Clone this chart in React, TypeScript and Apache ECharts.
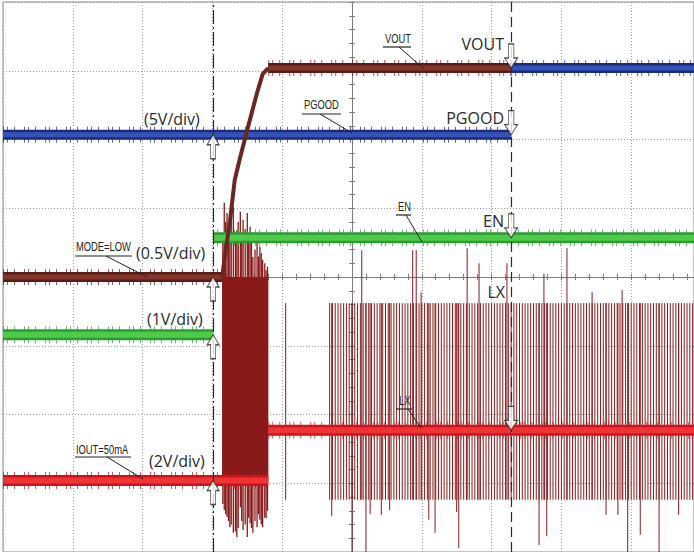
import { useEffect, useRef } from "react";
import * as echarts from "echarts";

// ---------------- data (x in divisions 0..9.9, y in divisions 0..8) ----------------
const triggerTime = 3.01;
const cursorTime = 7.28;

const voutTrace: any[] = [[0, 4.0], [3.14, 4.0], [3.19, 4.39], [3.25, 4.8], [3.32, 5.41], [3.4, 5.75], [3.51, 6.18], [3.64, 6.68], [3.72, 6.95], [3.8, 7.04], [7.28, 7.04]];
const pgoodTrace: any[] = [[0, 6.07], [7.28, 6.07], [7.28, "-"], [7.28, 7.04], [9.9, 7.04]];
const enTrace: any[] = [[0, 3.16], [3.01, 3.16], [3.01, "-"], [3.01, 4.57], [9.9, 4.57]];
const ioutTrace: any[] = [[0, 1.04], [3.8, 1.04], [3.8, "-"], [3.8, 1.77], [9.9, 1.77]];

// LX start-up burst: [start, end, top, bottom]
const lxBurst = [3.14, 3.8, 4.0, 1.04];
// burst spikes: [t, top, bottom]
const lxBurstSpikes = [
  [3.15, 4.6, 0.7], [3.17, 5.08, 0.61], [3.19, 4.8, 0.55], [3.21, 4.93, 0.51], [3.23, 4.5, 0.45],
  [3.25, 4.87, 0.36], [3.27, 4.9, 0.4], [3.3, 5.02, 0.28], [3.33, 4.6, 0.3], [3.35, 4.68, 0.22],
  [3.37, 4.8, 0.35], [3.4, 4.95, 0.65], [3.42, 4.6, 0.45], [3.44, 4.83, 0.32], [3.47, 4.7, 0.4],
  [3.5, 4.93, 0.22], [3.52, 4.5, 0.5], [3.54, 4.73, 0.42], [3.56, 4.6, 0.35], [3.58, 4.29, 0.28],
  [3.61, 4.4, 0.45], [3.64, 4.54, 0.36], [3.66, 4.3, 0.55], [3.68, 4.44, 0.47], [3.7, 4.35, 0.4],
  [3.72, 4.25, 0.36], [3.75, 4.2, 0.5], [3.77, 4.1, 0.49], [3.79, 4.15, 0.6],
];
// LX switching pulses
const lxPulseTop = 3.62;
const lxPulseBottom = 0.76;
const lxPulseTimes = [
  4.05, 4.68, 4.72, 4.76, 4.8, 4.84, 4.88, 4.92, 4.96, 5.0, 5.04, 5.08, 5.12, 5.16, 5.2, 5.24, 5.28, 5.32,
  5.36, 5.4, 5.44, 5.48, 5.52, 5.56, 5.6, 5.64, 5.68, 5.72, 5.76, 5.8, 5.84, 5.88, 5.92, 5.96, 6.0,
  6.04, 6.08, 6.12, 6.16, 6.2, 6.24, 6.28, 6.32, 6.36, 6.4, 6.44, 6.48, 6.52, 6.56, 6.6, 6.64, 6.68,
  6.72, 6.76, 6.8, 6.84, 6.88, 6.92, 6.96, 7.0, 7.04, 7.08, 7.12, 7.16, 7.2, 7.24, 7.28, 7.32, 7.36,
  7.4, 7.44, 7.48, 7.52, 7.56, 7.6, 7.64, 7.68, 7.72, 7.76, 7.8, 7.84, 7.88, 7.92, 7.96, 8.0, 8.04,
  8.08, 8.12, 8.16, 8.2, 8.24, 8.28, 8.32, 8.36, 8.4, 8.44, 8.48, 8.52, 8.56, 8.6, 8.64, 8.68, 8.72,
  8.76, 8.8, 8.84, 8.88, 8.92, 8.96, 9.0, 9.04, 9.08, 9.12, 9.16, 9.2, 9.24, 9.28, 9.32, 9.36, 9.4,
  9.44, 9.48, 9.52, 9.56, 9.6, 9.64, 9.68, 9.72, 9.76, 9.8, 9.84, 9.88,
];
// taller pulses: [t, top]
const lxTallPulses = [
  [5.14, 4.39], [5.87, 4.39], [5.92, 4.39], [5.99, 3.78], [6.65, 4.42], [6.82, 4.2],
  [7.22, 4.2], [7.75, 4.05], [8.08, 4.42], [8.44, 3.78], [8.87, 3.81],
];
// longer pulses: [t, bottom]
const lxLongPulses = [
  [4.71, 0.52], [5.0, 0.0], [5.2, 0.0], [5.26, 0.55], [5.42, 0.54], [5.54, 0.61], [6.1, 0.47],
  [6.19, 0.28], [6.5, 0.58], [6.53, 0.06], [7.68, 0.1], [7.79, 0.23], [8.64, 0.54], [8.81, 0.54],
  [8.95, 0.0], [9.13, 0.25], [9.4, 0.0], [9.68, 0.54],
];

// channel reference markers
const upMarkers = [[3.01, 6.07], [3.01, 4.0], [3.01, 3.16], [3.01, 1.04]];
const downMarkers = [[7.28, 7.04], [7.28, 6.07], [7.28, 4.57], [7.28, 1.77]];

const scaleLabels = ["(5V/div)", "(0.5V/div)", "(1V/div)", "(2V/div)"];
const channelLabels = ["VOUT", "PGOOD", "EN", "LX"];
const calloutLabels = ["VOUT", "PGOOD", "MODE=LOW", "EN", "IOUT=50mA", "LX"];

// ---------------- helpers ----------------
const UP_ARROW = "path://M6,0 L12,10 L8.5,10 L8.5,24 L3.5,24 L3.5,10 L0,10 Z";
const DOWN_ARROW = "path://M3.5,0 L8.5,0 L8.5,14 L12,14 L6,24 L0,14 L3.5,14 Z";

function trace(data: any[], edge: string, core: string, w: number, z: number) {
  const base = { type: "line", data, showSymbol: false, symbol: "none", silent: true, connectNulls: false, animation: false, z };
  return [
    { ...base, lineStyle: { color: edge, width: w + 6, type: [1, 3, 1, 6, 1, 9], opacity: 0.7 } },
    { ...base, lineStyle: { color: edge, width: w } },
    { ...base, lineStyle: { color: core, width: Math.max(2, w - 5) } },
  ];
}

function segRender(color: string, width: number) {
  return (_p: any, api: any) => {
    const a = api.coord([api.value(0), api.value(1)]);
    const b = api.coord([api.value(0), api.value(2)]);
    return { type: "line", shape: { x1: a[0], y1: a[1], x2: b[0], y2: b[1] }, style: { stroke: color, lineWidth: width } };
  };
}

function bigText(text: string, x: number, y: number, align: string) {
  return {
    type: "text", x, y, z: 100,
    style: { text, fill: "#2b2b2b", font: '16px "Open Sans", sans-serif', align, textAlign: align, verticalAlign: "middle", textVerticalAlign: "middle" },
  };
}

function callout(text: string, x: number, cy: number, u1: number, u2: number, uy: number, lx: number, px: number, py: number) {
  return [
    {
      type: "text", x, y: cy, scaleX: 0.72, z: 100,
      style: { text, fill: "#222", font: '13px "Liberation Sans", sans-serif', align: "left", textAlign: "left", verticalAlign: "middle", textVerticalAlign: "middle" },
    },
    { type: "line", z: 100, shape: { x1: u1, y1: uy, x2: u2, y2: uy }, style: { stroke: "#222", lineWidth: 1.2 } },
    { type: "line", z: 100, shape: { x1: lx, y1: uy, x2: px, y2: py }, style: { stroke: "#222", lineWidth: 1 } },
  ];
}

export default function App() {
  const ref = useRef<HTMLDivElement>(null);
  useEffect(() => {
    document.body.style.margin = "0";
    const chart = echarts.init(ref.current!, null, { renderer: "svg" });

    const pulseData: number[][] = lxPulseTimes.map((t) => [t, lxPulseTop, lxPulseBottom]);
    const tallData = lxTallPulses.map((p) => [p[0], p[1], lxPulseBottom]);
    const longData = lxLongPulses.map((p) => [p[0], lxPulseTop, p[1]]);

    // VOUT: flat low part, thin ramp, flat high part
    const voutLow = voutTrace.slice(0, 2);
    const voutRamp = voutTrace.slice(1, 10);
    const voutHigh = voutTrace.slice(9);

    const dotted = { show: true, lineStyle: { color: "#9c9c9c", type: [1, 2], width: 1 } };
    const hidden = { show: false };

    const option: any = {
      animation: false,
      backgroundColor: "#ffffff",
      grid: { left: 3, right: 0, top: 2, bottom: 0, show: true, borderColor: "#8a8a8a", borderWidth: 1, containLabel: false },
      xAxis: [
        { type: "value", min: 0, max: 9.9, interval: 1, axisLine: { show: false, onZero: false }, axisTick: hidden, axisLabel: hidden, splitLine: dotted },
        { type: "value", min: 0, max: 9.9, interval: 0.2, position: "bottom", offset: -275, axisLine: { show: true, onZero: false, lineStyle: { color: "#7c7c7c", width: 1 } }, axisTick: { show: true, length: 3, lineStyle: { color: "#7c7c7c" } }, axisLabel: hidden, splitLine: hidden },
        { type: "value", min: 0, max: 9.9, interval: 0.2, position: "bottom", offset: -275, axisLine: { show: false, onZero: false }, axisTick: { show: true, inside: true, length: 3, lineStyle: { color: "#7c7c7c" } }, axisLabel: hidden, splitLine: hidden },
      ],
      yAxis: [
        { type: "value", min: 0, max: 8, interval: 1, axisLine: { show: false, onZero: false }, axisTick: hidden, axisLabel: hidden, splitLine: dotted },
        { type: "value", min: 0, max: 8, interval: 0.2, position: "left", offset: -349, axisLine: { show: true, onZero: false, lineStyle: { color: "#7c7c7c", width: 1 } }, axisTick: { show: true, length: 3, lineStyle: { color: "#7c7c7c" } }, axisLabel: hidden, splitLine: hidden },
        { type: "value", min: 0, max: 8, interval: 0.2, position: "left", offset: -349, axisLine: { show: false, onZero: false }, axisTick: { show: true, inside: true, length: 3, lineStyle: { color: "#7c7c7c" } }, axisLabel: hidden, splitLine: hidden },
      ],
      series: [
        {
          type: "custom", name: "LX pulses", silent: true, z: 1,
          data: [...pulseData, ...tallData, ...longData],
          encode: { x: 0, y: [1, 2] },
          renderItem: segRender("#861b1b", 1),
          markLine: {
            silent: true, symbol: "none", label: { show: false },
            data: [
              { xAxis: triggerTime, lineStyle: { color: "#2a2a2a", width: 1.2, type: [14, 3, 2, 3] } },
              { xAxis: cursorTime, lineStyle: { color: "#2a2a2a", width: 1.2, type: [10, 5] } },
            ],
          },
        },
        {
          type: "custom", name: "LX burst", silent: true, z: 2,
          data: [lxBurst],
          encode: { x: [0, 1], y: [2, 3] },
          renderItem: (_p: any, api: any) => {
            const a = api.coord([api.value(0), api.value(2)]);
            const b = api.coord([api.value(1), api.value(3)]);
            return { type: "rect", shape: { x: a[0], y: a[1], width: b[0] - a[0], height: b[1] - a[1] }, style: { fill: "#8a1a1a" } };
          },
        },
        {
          type: "custom", name: "LX burst spikes", silent: true, z: 2,
          data: lxBurstSpikes,
          encode: { x: 0, y: [1, 2] },
          renderItem: segRender("#8a1a1a", 1.3),
        },
        ...trace(ioutTrace, "#c8161c", "#ee3434", 11, 3),
        ...trace(enTrace, "#2e9a35", "#4fcb4a", 11, 3),
        ...trace(pgoodTrace, "#1d2b7c", "#3353b6", 10, 4),
        ...trace(voutLow, "#5a1c17", "#84352c", 10, 5),
        ...trace(voutHigh, "#5a1c17", "#84352c", 10, 5),
        {
          type: "line", data: voutRamp, showSymbol: false, symbol: "none", silent: true, z: 5,
          lineStyle: { color: "#6a2720", width: 4 },
        },
        {
          type: "scatter", name: "up markers", silent: true, z: 10,
          data: upMarkers, symbol: UP_ARROW, symbolSize: [12, 24], symbolOffset: [0, 12],
          itemStyle: { color: "#ffffff", borderColor: "#222", borderWidth: 1 },
        },
        {
          type: "scatter", name: "down markers", silent: true, z: 10,
          data: downMarkers, symbol: DOWN_ARROW, symbolSize: [13, 24], symbolOffset: [0, -12],
          itemStyle: { color: "#ffffff", borderColor: "#222", borderWidth: 1 },
        },
      ],
      graphic: [
        bigText(scaleLabels[0], 144, 119, "left"),
        bigText(scaleLabels[1], 136, 253, "left"),
        bigText(scaleLabels[2], 147, 319, "left"),
        bigText(scaleLabels[3], 149, 461, "left"),
        bigText(channelLabels[0], 504, 44, "right"),
        bigText(channelLabels[1], 504, 118, "right"),
        bigText(channelLabels[2], 504, 221, "right"),
        bigText(channelLabels[3], 505, 292, "right"),
        ...callout(calloutLabels[0], 385, 38, 383, 411, 47, 399, 424, 69),
        ...callout(calloutLabels[1], 304, 104, 302, 341, 114, 320, 352, 133),
        ...callout(calloutLabels[2], 76, 246, 75, 132, 256, 106, 147, 277),
        ...callout(calloutLabels[3], 398, 206, 396, 411, 215, 406, 422, 242),
        ...callout(calloutLabels[4], 76, 449, 75, 131, 457, 107, 143, 479),
        ...callout(calloutLabels[5], 399, 400, 396, 412, 409, 408, 421, 428),
      ],
    };
    chart.setOption(option);
    return () => chart.dispose();
  }, []);
  return <div ref={ref} style={{ position: "absolute", left: 0, top: 0, width: 694, height: 552 }} />;
}
